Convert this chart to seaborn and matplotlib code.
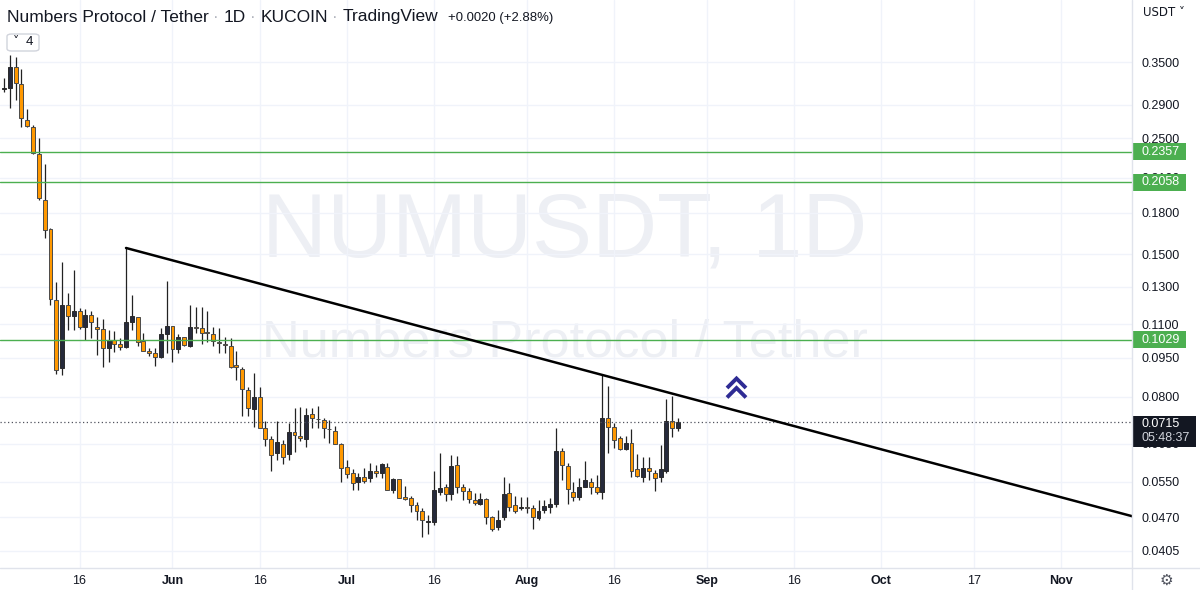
import matplotlib
matplotlib.use("Agg")
import numpy as np
import pandas as pd
import matplotlib.pyplot as plt
import matplotlib.dates as mdates
from matplotlib.lines import Line2D
from matplotlib.patches import Rectangle, FancyBboxPatch
from matplotlib.ticker import FixedLocator, FixedFormatter, NullLocator, NullFormatter
import matplotlib.transforms as mtransforms
import seaborn as sns

# ---------------- data ----------------
start_date = "2022-05-03"
opens = [0.3113, 0.3116, 0.3429, 0.3176, 0.2714, 0.2624, 0.2333, 0.1904, 0.1673, 0.1225,
         0.0907, 0.1198, 0.1143, 0.1168, 0.1089, 0.1147, 0.1089, 0.1076, 0.0990, 0.1026,
         0.1009, 0.0996, 0.1114, 0.1135, 0.1024, 0.0980, 0.0969, 0.0952, 0.1053, 0.1093,
         0.0987, 0.1039, 0.1000, 0.1089, 0.1084, 0.1064, 0.1053, 0.1018, 0.1009, 0.1002,
         0.0919, 0.0903, 0.0824, 0.0756, 0.0800, 0.0695, 0.0663, 0.0623, 0.0649, 0.0620,
         0.0685, 0.0671, 0.0664, 0.0740, 0.0726, 0.0722, 0.0693, 0.0688, 0.0650, 0.0586,
         0.0571, 0.0550, 0.0562, 0.0558, 0.0576, 0.0572, 0.0587, 0.0530, 0.0556, 0.0514,
         0.0511, 0.0496, 0.0483, 0.0460, 0.0460, 0.0526, 0.0536, 0.0521, 0.0592, 0.0536,
         0.0528, 0.0507, 0.0499, 0.0509, 0.0470, 0.0450, 0.0470, 0.0522, 0.0496, 0.0489,
         0.0492, 0.0489, 0.0468, 0.0485, 0.0492, 0.0499, 0.0629, 0.0589, 0.0526, 0.0514,
         0.0538, 0.0549, 0.0536, 0.0525, 0.0729, 0.0701, 0.0666, 0.0634, 0.0651, 0.0582,
         0.0562, 0.0585, 0.0571, 0.0560, 0.0577, 0.0717, 0.0695]
highs = [0.3262, 0.3610, 0.3583, 0.3394, 0.2844, 0.2650, 0.2500, 0.2229, 0.1685, 0.1328,
         0.1451, 0.1262, 0.1399, 0.1181, 0.1176, 0.1168, 0.1138, 0.1127, 0.1073, 0.1070,
         0.1035, 0.1541, 0.1253, 0.1135, 0.1058, 0.0990, 0.0990, 0.1081, 0.1334, 0.1093,
         0.1054, 0.1042, 0.1198, 0.1189, 0.1186, 0.1168, 0.1086, 0.1081, 0.1042, 0.1035,
         0.0979, 0.0910, 0.0836, 0.0889, 0.0834, 0.0717, 0.0671, 0.0717, 0.0661, 0.0713,
         0.0760, 0.0763, 0.0760, 0.0760, 0.0767, 0.0727, 0.0722, 0.0702, 0.0651, 0.0605,
         0.0581, 0.0572, 0.0583, 0.0598, 0.0592, 0.0596, 0.0598, 0.0558, 0.0556, 0.0539,
         0.0516, 0.0503, 0.0489, 0.0474, 0.0575, 0.0623, 0.0544, 0.0618, 0.0616, 0.0544,
         0.0534, 0.0522, 0.0524, 0.0511, 0.0473, 0.0485, 0.0561, 0.0546, 0.0516, 0.0514,
         0.0514, 0.0496, 0.0507, 0.0506, 0.0511, 0.0695, 0.0639, 0.0598, 0.0548, 0.0558,
         0.0602, 0.0558, 0.0566, 0.0880, 0.0839, 0.0712, 0.0673, 0.0673, 0.0692, 0.0620,
         0.0613, 0.0614, 0.0579, 0.0645, 0.0790, 0.0803, 0.0727]
lows = [0.3066, 0.2861, 0.2960, 0.2631, 0.2631, 0.2329, 0.1902, 0.1608, 0.1198, 0.0883,
        0.0880, 0.1073, 0.1073, 0.1076, 0.1027, 0.1037, 0.0961, 0.0913, 0.0933, 0.0976,
        0.0983, 0.0990, 0.1073, 0.1000, 0.0980, 0.0957, 0.0915, 0.0947, 0.0969, 0.0933,
        0.0969, 0.1000, 0.0997, 0.1058, 0.1009, 0.1019, 0.1000, 0.0969, 0.0969, 0.0907,
        0.0861, 0.0733, 0.0733, 0.0701, 0.0695, 0.0644, 0.0577, 0.0605, 0.0594, 0.0605,
        0.0626, 0.0658, 0.0641, 0.0697, 0.0695, 0.0666, 0.0651, 0.0649, 0.0550, 0.0558,
        0.0530, 0.0530, 0.0546, 0.0550, 0.0562, 0.0558, 0.0530, 0.0522, 0.0511, 0.0507,
        0.0481, 0.0465, 0.0431, 0.0436, 0.0454, 0.0518, 0.0505, 0.0506, 0.0522, 0.0507,
        0.0500, 0.0497, 0.0496, 0.0457, 0.0443, 0.0444, 0.0464, 0.0483, 0.0478, 0.0485,
        0.0478, 0.0447, 0.0464, 0.0478, 0.0478, 0.0492, 0.0554, 0.0498, 0.0505, 0.0507,
        0.0536, 0.0521, 0.0521, 0.0509, 0.0623, 0.0637, 0.0632, 0.0632, 0.0562, 0.0562,
        0.0550, 0.0554, 0.0528, 0.0549, 0.0571, 0.0668, 0.0688]
closes = [0.3120, 0.3429, 0.3195, 0.2730, 0.2642, 0.2340, 0.1919, 0.1668, 0.1229, 0.0900,
          0.1198, 0.1143, 0.1168, 0.1089, 0.1147, 0.1111, 0.1078, 0.0990, 0.1027, 0.1008,
          0.0997, 0.1114, 0.1141, 0.1019, 0.0980, 0.0969, 0.0952, 0.1053, 0.1093, 0.0986,
          0.1039, 0.1004, 0.1086, 0.1083, 0.1060, 0.1060, 0.1022, 0.1013, 0.1003, 0.0913,
          0.0910, 0.0827, 0.0760, 0.0800, 0.0695, 0.0663, 0.0618, 0.0654, 0.0614, 0.0685,
          0.0675, 0.0666, 0.0738, 0.0727, 0.0724, 0.0698, 0.0692, 0.0649, 0.0583, 0.0569,
          0.0547, 0.0562, 0.0552, 0.0576, 0.0571, 0.0594, 0.0530, 0.0556, 0.0511, 0.0510,
          0.0496, 0.0483, 0.0464, 0.0462, 0.0529, 0.0535, 0.0521, 0.0589, 0.0536, 0.0528,
          0.0510, 0.0501, 0.0509, 0.0470, 0.0447, 0.0465, 0.0521, 0.0492, 0.0484, 0.0492,
          0.0489, 0.0470, 0.0484, 0.0494, 0.0498, 0.0630, 0.0591, 0.0532, 0.0513, 0.0536,
          0.0554, 0.0536, 0.0525, 0.0729, 0.0701, 0.0661, 0.0634, 0.0651, 0.0577, 0.0564,
          0.0585, 0.0575, 0.0558, 0.0581, 0.0717, 0.0695, 0.0715]

x_start = "2022-05-02 07:26"
x_end = "2022-11-13 03:36"
y_min, y_max = 0.03756, 0.4601

price_ticks = [0.3500, 0.2900, 0.2500, 0.2100, 0.1800, 0.1500, 0.1300, 0.1100,
               0.0950, 0.0800, 0.0650, 0.0550, 0.0470, 0.0405]
date_ticks = ["2022-05-16", "2022-06-01", "2022-06-16", "2022-07-01", "2022-07-16",
              "2022-08-01", "2022-08-16", "2022-09-01", "2022-09-16", "2022-10-01",
              "2022-10-17", "2022-11-01"]
date_tick_labels = ["16", "Jun", "16", "Jul", "16", "Aug", "16", "Sep", "16", "Oct", "17", "Nov"]
month_names = ["Jun", "Jul", "Aug", "Sep", "Oct", "Nov"]

levels = [0.2357, 0.2058, 0.1029]
level_labels = ["0.2357", "0.2058", "0.1029"]
last_price = 0.0715
last_price_label = "0.0715"
countdown = "05:48:37"
trend_dates = ["2022-05-24", "2022-08-14"]
trend_prices = [0.1541, 0.0880]

title_parts = ["Numbers Protocol / Tether", "1D", "KUCOIN", "TradingView"]
change_text = "+0.0020 (+2.88%)"
watermark_1 = "NUMUSDT, 1D"
watermark_2 = "Numbers Protocol / Tether"
currency = "USDT"
indicator_count = "4"

# ---------------- style ----------------
UP = "#262a3b"
DOWN = "#ff9800"
EDGE = "#4a4a4a"
WICK = "#222222"
GRID = "#f0f3fa"
BORDER = "#e0e3eb"
TEXT = "#131722"
WM = "#edeff4"
GREEN = "#4caf50"

sns.set_theme(style="white")
plt.rcParams["font.family"] = ["Liberation Sans", "DejaVu Sans"]

W, H = 1200, 590
PLOT_R, PLOT_B = 1132, 568
fig = plt.figure(figsize=(W / 100, H / 100), dpi=100)
fig.patch.set_facecolor("white")
ax = fig.add_axes([0, 1 - PLOT_B / H, PLOT_R / W, PLOT_B / H])
ax.set_facecolor("white")
ax.set_yscale("log")

# ---------------- candles ----------------
dates = pd.date_range(start_date, periods=len(opens), freq="D")
xd = mdates.date2num(dates)
o = np.array(opens); h = np.array(highs); l = np.array(lows); c = np.array(closes)
up = c >= o
body_lo = np.minimum(o, c)
body_h = np.abs(c - o)
ax.vlines(xd, l, h, color=WICK, lw=0.9, zorder=3)
ax.bar(xd[up], body_h[up], bottom=body_lo[up], width=0.68, color=UP,
       edgecolor="#2a2a2a", linewidth=0.7, zorder=4)
ax.bar(xd[~up], body_h[~up], bottom=body_lo[~up], width=0.68, color=DOWN,
       edgecolor=EDGE, linewidth=0.7, zorder=4)

# ---------------- limits ----------------
x0 = mdates.date2num(pd.Timestamp(x_start))
x1 = mdates.date2num(pd.Timestamp(x_end))

# ---------------- trend line (extended in log space to the right edge) ----------------
td = mdates.date2num(pd.to_datetime(trend_dates))
slope = (np.log(trend_prices[1]) - np.log(trend_prices[0])) / (td[1] - td[0])
t_end_price = np.exp(np.log(trend_prices[0]) + slope * (x1 + 2 - td[0]))
sns.lineplot(x=[td[0], x1 + 2], y=[trend_prices[0], t_end_price], ax=ax,
             color="black", linewidth=1.8, zorder=6, legend=False)
ax.set_xlim(x0, x1)
ax.set_ylim(y_min, y_max)

# ---------------- horizontal levels ----------------
for lv in levels:
    ax.axhline(lv, color=GREEN, lw=1.0, zorder=5)
ax.axhline(last_price, color="#50535e", lw=0.9, ls=(0, (1, 2)), zorder=5)

# ---------------- axes / ticks ----------------
for s in ax.spines.values():
    s.set_visible(False)
ax.grid(True, color=GRID, lw=1.0)
ax.set_axisbelow(True)
ax.yaxis.tick_right()
ax.yaxis.set_major_locator(FixedLocator(price_ticks))
ax.yaxis.set_major_formatter(FixedFormatter([f"{p:.4f}" for p in price_ticks]))
ax.yaxis.set_minor_locator(NullLocator())
ax.yaxis.set_minor_formatter(NullFormatter())
ax.tick_params(axis="y", which="both", length=0, pad=7, labelsize=9, labelcolor=TEXT)
dt = mdates.date2num(pd.to_datetime(date_ticks))
ax.set_xticks(dt)
ax.set_xticklabels(date_tick_labels)
ax.tick_params(axis="x", length=0, pad=5, labelsize=9, labelcolor=TEXT)
for lab in ax.get_xticklabels():
    if lab.get_text() in month_names:
        lab.set_fontweight("bold")
ax.set_xlabel("")
ax.set_ylabel("")

# borders
fig.add_artist(Line2D([PLOT_R / W] * 2, [0, 1], transform=fig.transFigure, color=BORDER, lw=1))
fig.add_artist(Line2D([0, 1], [1 - PLOT_B / H] * 2, transform=fig.transFigure, color=BORDER, lw=1))

# ---------------- price labels on the scale ----------------
k = PLOT_B / np.log(y_max / y_min)   # pixels per log unit
blend = mtransforms.blended_transform_factory(ax.transAxes, ax.transData)
for lv, lab in zip(levels, level_labels):
    ax.add_patch(Rectangle((1.0, lv * np.exp(-8.5 / k)), 54 / PLOT_R,
                           lv * np.exp(8.5 / k) - lv * np.exp(-8.5 / k),
                           transform=blend, facecolor=GREEN, edgecolor="none",
                           clip_on=False, zorder=20))
    ax.text(1 + 9 / PLOT_R, lv, lab, transform=blend, ha="left", va="center",
            color="white", fontsize=9, clip_on=False, zorder=21)
top = last_price * np.exp(6 / k)
bot = last_price * np.exp(-25 / k)
ax.add_patch(Rectangle((1.0, bot), 64 / PLOT_R, top - bot, transform=blend,
                       facecolor=TEXT, edgecolor="none", clip_on=False, zorder=20))
ax.text(1 + 9 / PLOT_R, last_price * np.exp(-1.5 / k), last_price_label, transform=blend,
        ha="left", va="center", color="white", fontsize=9, clip_on=False, zorder=21)
ax.text(1 + 9 / PLOT_R, last_price * np.exp(-16 / k), countdown, transform=blend,
        ha="left", va="center", color="#d1d4dc", fontsize=9, clip_on=False, zorder=21)

# ---------------- watermark ----------------
renderer = fig.canvas.get_renderer()

def fit(t, target_px):
    bb = t.get_window_extent(renderer=renderer)
    t.set_fontsize(t.get_fontsize() * target_px / bb.width)

w1 = ax.text(565 / PLOT_R, 1 - 233 / PLOT_B, watermark_1, transform=ax.transAxes,
             ha="center", va="center", color=WM, fontsize=60, zorder=0.5)
fit(w1, 606)
w2 = ax.text(565 / PLOT_R, 1 - 343 / PLOT_B, watermark_2, transform=ax.transAxes,
             ha="center", va="center", color=WM, fontsize=30, zorder=0.5)
fit(w2, 606)

# ---------------- chevrons ----------------
def pax(px, py):
    return px / PLOT_R, 1 - py / PLOT_B
for dy in (0, 9.5):
    pts = [pax(727, 388 + dy), pax(736.5, 378.5 + dy), pax(746, 388 + dy)]
    ax.plot([p[0] for p in pts], [p[1] for p in pts], transform=ax.transAxes,
            color="#2e2b94", lw=2.8, solid_joinstyle="miter", solid_capstyle="butt", zorder=7)

# ---------------- title ----------------
def ftext(px, py, s, **kw):
    return fig.text(px / W, 1 - py / H, s, ha="left", va="center", **kw)

t0 = ftext(7, 17, title_parts[0], color=TEXT, fontsize=11)
fit(t0, 201)
fs = t0.get_fontsize()
x = t0.get_window_extent(renderer=renderer).x1
for part in title_parts[1:]:
    d = ftext(x + 4, 17, "·", color="#b2b5be", fontsize=fs)
    x = d.get_window_extent(renderer=renderer).x1
    t = ftext(x + 5, 17, part, color=TEXT, fontsize=fs)
    x = t.get_window_extent(renderer=renderer).x1
ch = ftext(x + 10, 18, change_text, color=TEXT, fontsize=9)
fit(ch, 105)

# indicator box
fig.add_artist(FancyBboxPatch((7 / W, 1 - 51 / H), 32 / W, 17 / H,
                              boxstyle="round,pad=0,rounding_size=0.004",
                              transform=fig.transFigure, facecolor="white",
                              edgecolor="#d1d4dc", lw=1))
ftext(13, 42, "˅", color=TEXT, fontsize=9, family=["DejaVu Sans"])
ftext(26, 42, indicator_count, color=TEXT, fontsize=9.5)

# currency & gear
ftext(1143, 13, currency + " ˅", color=TEXT, fontsize=8.5, family=["DejaVu Sans"])
fig.text(1166 / W, 1 - 580 / H, "⚙", ha="center", va="center", color="#50535e",
         fontsize=11, family=["DejaVu Sans"])

fig.savefig("out.png", dpi=100, facecolor="white")
